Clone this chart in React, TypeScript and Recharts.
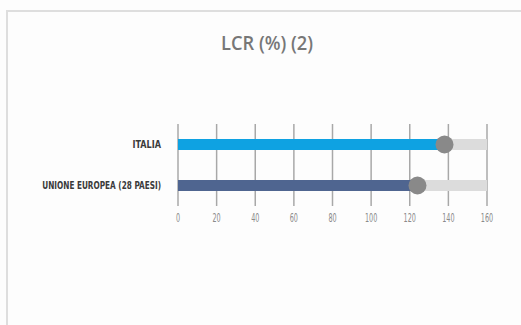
import React from 'react';
import { BarChart, Bar, XAxis, YAxis, CartesianGrid, Cell } from 'recharts';

const categories = ['ITALIA', 'UNIONE EUROPEA (28 PAESI)'];
const lcrValues = [138, 124];
const barColors = ['#0ea2e2', '#4f6590'];
const xTicks = [0, 20, 40, 60, 80, 100, 120, 140, 160];
const title = 'LCR (%) (2)';

const data = categories.map((name, i) => ({ name, value: lcrValues[i] }));

const condensed = "'DejaVu Sans Condensed', 'Liberation Sans Narrow', 'DejaVu Sans', sans-serif";

const BarWithDot = (props: any) => {
  const { x, y, width, height, fill } = props;
  return (
    <g>
      <rect x={x} y={y} width={width} height={height} fill={fill} />
      <circle cx={x + width} cy={y + height / 2} r={9} fill="#898989" />
    </g>
  );
};

const YTick = (props: any) => {
  const { x, y, payload } = props;
  const label = String(payload.value);
  const len = label.length * 4.75;
  return (
    <text
      x={x - 9}
      y={y}
      dy="0.35em"
      textAnchor="end"
      fontFamily={condensed}
      fontWeight="bold"
      fontSize={10.5}
      fill="#3a3a3a"
      textLength={len}
      lengthAdjust="spacingAndGlyphs"
    >
      {label}
    </text>
  );
};

const XTick = (props: any) => {
  const { x, y, payload } = props;
  const label = String(payload.value);
  const len = label.length * 4.1;
  return (
    <text
      x={x}
      y={y + 4}
      dy="0.35em"
      textAnchor="middle"
      fontFamily={condensed}
      fontSize={12}
      fill="#8a8a8a"
      textLength={len}
      lengthAdjust="spacingAndGlyphs"
    >
      {label}
    </text>
  );
};

export default function App() {
  return (
    <div style={{ position: 'fixed', left: 0, top: 0, width: 521, height: 325, background: '#fdfdfd', overflow: 'hidden' }}>
      <div
        style={{
          position: 'absolute',
          left: 6,
          top: 10,
          width: 600,
          height: 400,
          borderLeft: '2px solid #dedede',
          borderTop: '2px solid #dedede',
          boxSizing: 'border-box',
        }}
      />
      <svg style={{ position: 'absolute', left: 0, top: 0 }} width={521} height={80}>
        <text
          x={221}
          y={50}
          fontFamily="'Open Sans', sans-serif"
          fontWeight={600}
          fontSize={20}
          fill="#777777"
          textLength={92}
          lengthAdjust="spacingAndGlyphs"
        >
          {title}
        </text>
      </svg>
      <div style={{ position: 'absolute', left: 0, top: 0 }}>
        <BarChart
          width={521}
          height={325}
          data={data}
          layout="vertical"
          margin={{ top: 124, right: 34, bottom: 89, left: 0 }}
          barSize={11}
        >
          <CartesianGrid horizontal={false} vertical={true} stroke="#a8a8a8" strokeWidth={1.5} />
          <XAxis
            type="number"
            domain={[0, 160]}
            ticks={xTicks}
            axisLine={false}
            tickLine={false}
            tick={<XTick />}
            height={30}
            interval={0}
          />
          <YAxis
            type="category"
            dataKey="name"
            width={178}
            axisLine={false}
            tickLine={false}
            tick={<YTick />}
            interval={0}
          />
          <Bar dataKey="value" isAnimationActive={false} background={{ fill: '#dcdcdc' }} shape={<BarWithDot />}>
            {data.map((d, i) => (
              <Cell key={d.name} fill={barColors[i]} />
            ))}
          </Bar>
        </BarChart>
      </div>
    </div>
  );
}
